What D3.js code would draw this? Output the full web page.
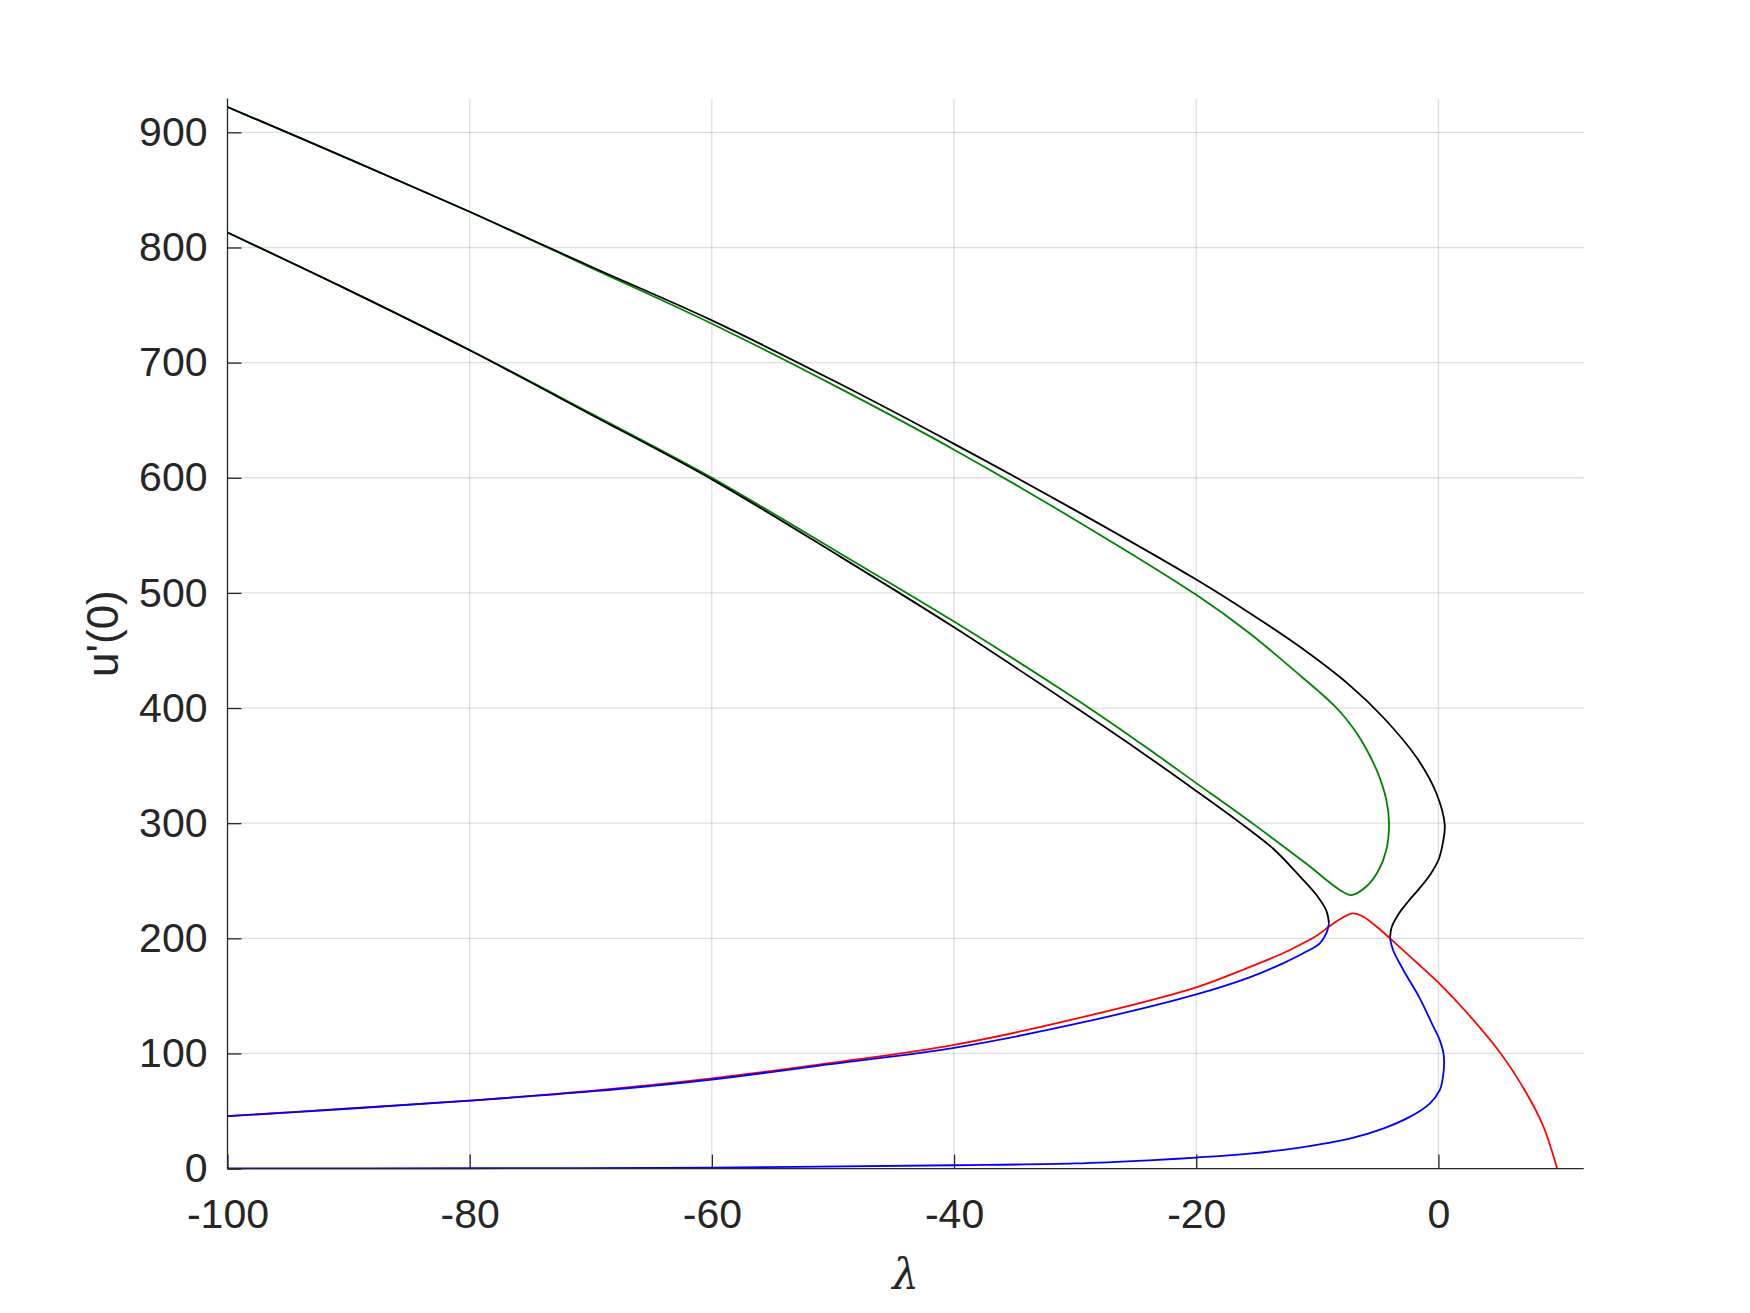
<!DOCTYPE html>
<html>
<head>
<meta charset="utf-8">
<script src="https://cdn.jsdelivr.net/npm/d3@7"></script>
<style>
  body { margin: 0; background: #fff; }
  svg { display: block; }
  .tick-label { font-family: "Liberation Sans", Arial, sans-serif; font-size: 41px; fill: #262626; }
</style>
</head>
<body>
<div id="chart"></div>
<script>
// branches of the bifurcation diagram, [lambda, u'(0)] pairs
var greenLoop = [[-100,922],[-90,877],[-80,831],[-70,782.5],[-60,733.8],[-49.4,677.4],[-40,624.4],[-30.2,564.7],
    [-20,498.3],[-15.6,465],[-11.5,429],[-10,415.5],[-8.6,402],[-7.5,389],[-6.55,375],[-5.1,346],[-4.3,320],
    [-4.08,300],[-4.3,277],[-5.0,258],[-5.95,245],[-7.19,237.6],[-8.15,242],[-10.9,264.7],[-15.3,299.4],[-20,334.8],
    [-24.7,370],[-30.2,409.5],[-40,475.1],[-49.4,534.2],[-60,600],[-70,656],[-80,711],[-90,763],[-100,813]];

var blackUpper = [[-100,922],[-90,877],[-80,831],[-70,783.5],[-60,736.7],[-49.4,681.4],[-40,629.4],[-30.2,573],
    [-20,511.6],[-15.6,482.6],[-11.5,453.6],[-7.3,419.5],[-4.57,392],[-1.8,357],[-0.17,326],[0.52,298.6],
    [0.35,282],[0,268],[-0.7,255],[-1.6,243],[-2.5,232],[-3.3,221],[-3.85,210],[-4.0,200]];

var blackLower = [[-100,813],[-90,763],[-80,710.7],[-70,655],[-60,598.6],[-49.4,531.5],[-40,470.1],[-30.2,402.2],
    [-24.7,363],[-20,328],[-16.4,300.5],[-13.66,278],[-11.46,254],[-10.1,238],[-9.26,224],[-9.04,213]];

var blueUpper = [[-9.04,213],[-9.26,204.3],[-9.8,195.7],[-10.9,188.5],[-12.84,178.3],[-15.6,166.1],[-20,151.3],
    [-29.5,126.7],[-40,104.9],[-50.2,90.7],[-60,77.4],[-70,67],[-80,59],[-90,52],[-100,45.5]];

var blueLower = [[-4.0,200],[-3.75,189.9],[-2.9,172.5],[-1.54,147.9],[-0.5,125],[0.11,111.6],[0.42,100],
    [0.47,92],[0.44,85.5],[0.33,76.8],[0.11,68.1],[-0.72,56.5],[-2.37,44.9],[-4.57,34.8],[-7.33,26.1],
    [-11.46,18.3],[-15.6,13],[-20,9.6],[-23.9,7.2],[-30,4.5],[-40,2.9],[-60,0.9],[-80,0.3],[-100,0.1]];

var redCurve = [[-100,45.5],[-90,52.3],[-80,59.1],[-70,67.5],[-60,78.3],[-50,92],[-40,107.5],[-30,130],
    [-20,157.4],[-15.6,175],[-12.84,187],[-11.5,194],[-10.1,202],[-9.06,210],[-8.15,216.5],[-7.1,221.7],
    [-6.2,218.8],[-5.1,210],[-4.0,200],[-1.8,179],[0,161.5],[2.3,136],[5.07,101],[7.27,65.5],[8.65,37],[9.8,0]];

var xTicks = [-100, -80, -60, -40, -20, 0];
var yTicks = [0, 100, 200, 300, 400, 500, 600, 700, 800, 900];

(function () {
    var width = 1750, height = 1313;
    var plotLeft = 227.5, plotRight = 1583.75, plotTop = 98.5, plotBottom = 1168.6;
    var ink = "#262626";

    var svg = d3.select("#chart").append("svg")
        .attr("width", width)
        .attr("height", height);

    svg.append("rect").attr("width", width).attr("height", height).attr("fill", "#fff");

    var x = d3.scaleLinear().domain([-100, 12]).range([plotLeft, plotRight]);
    var y = d3.scaleLinear().domain([0, 929.4]).range([plotBottom, plotTop]);

    // grid
    var grid = svg.append("g").attr("class", "grid")
        .attr("stroke", ink).attr("stroke-opacity", 0.15).attr("stroke-width", 1.3);
    grid.selectAll("line.gx").data(xTicks.slice(1)).enter().append("line")
        .attr("class", "gx")
        .attr("x1", d => x(d)).attr("x2", d => x(d)).attr("y1", plotTop).attr("y2", plotBottom);
    grid.selectAll("line.gy").data(yTicks.slice(1)).enter().append("line")
        .attr("class", "gy")
        .attr("y1", d => y(d)).attr("y2", d => y(d)).attr("x1", plotLeft).attr("x2", plotRight);

    // curves
    var line = d3.line()
        .x(d => x(d[0]))
        .y(d => y(d[1]))
        .curve(d3.curveCatmullRom.alpha(0.5));

    var series = [
        { data: greenLoop, color: "#008000" },
        { data: blackUpper, color: "#000000" },
        { data: blackLower, color: "#000000" },
        { data: redCurve, color: "#ff0000" },
        { data: blueUpper, color: "#0000ff" },
        { data: blueLower, color: "#0000ff" }
    ];

    svg.append("g").attr("class", "curves")
        .selectAll("path").data(series).enter().append("path")
        .attr("d", d => line(d.data))
        .attr("fill", "none")
        .attr("stroke", d => d.color)
        .attr("stroke-width", 1.8)
        .attr("stroke-linejoin", "round");

    // axes (ticks pointing inward, no box)
    var plain = d => String(d);
    var xAxis = d3.axisBottom(x).tickValues(xTicks).tickFormat(plain)
        .tickSizeInner(-14).tickSizeOuter(0).tickPadding(30);
    var yAxis = d3.axisLeft(y).tickValues(yTicks).tickFormat(plain)
        .tickSizeInner(-14).tickSizeOuter(0).tickPadding(20);

    var gx = svg.append("g").attr("transform", "translate(0," + plotBottom + ")").call(xAxis);
    var gy = svg.append("g").attr("transform", "translate(" + plotLeft + ",0)").call(yAxis);

    [gx, gy].forEach(function (g) {
        g.attr("font-family", null).attr("font-size", null);
        g.select(".domain").attr("stroke", ink).attr("stroke-width", 1.3);
        g.selectAll(".tick line").attr("stroke", ink).attr("stroke-width", 1.3);
        g.selectAll(".tick text").attr("class", "tick-label").attr("fill", ink);
    });
    gx.select(".domain").attr("d", "M" + plotLeft + ",0H" + plotRight);
    gy.select(".domain").attr("d", "M0," + plotBottom + "V" + plotTop);

    // axis labels
    svg.append("text")
        .attr("transform", "translate(118," + ((plotTop + plotBottom) / 2) + ") rotate(-90)")
        .attr("text-anchor", "middle")
        .style("font-family", "'Liberation Sans', Arial, sans-serif")
        .style("font-size", "44px")
        .attr("fill", ink)
        .text("u'(0)");

    svg.append("text")
        .attr("x", (plotLeft + plotRight) / 2)
        .attr("y", 1289)
        .attr("text-anchor", "middle")
        .style("font-family", "'DejaVu Serif', 'Liberation Serif', serif")
        .style("font-style", "italic")
        .style("font-size", "42px")
        .attr("fill", ink)
        .text("λ");
})();
</script>
</body>
</html>
